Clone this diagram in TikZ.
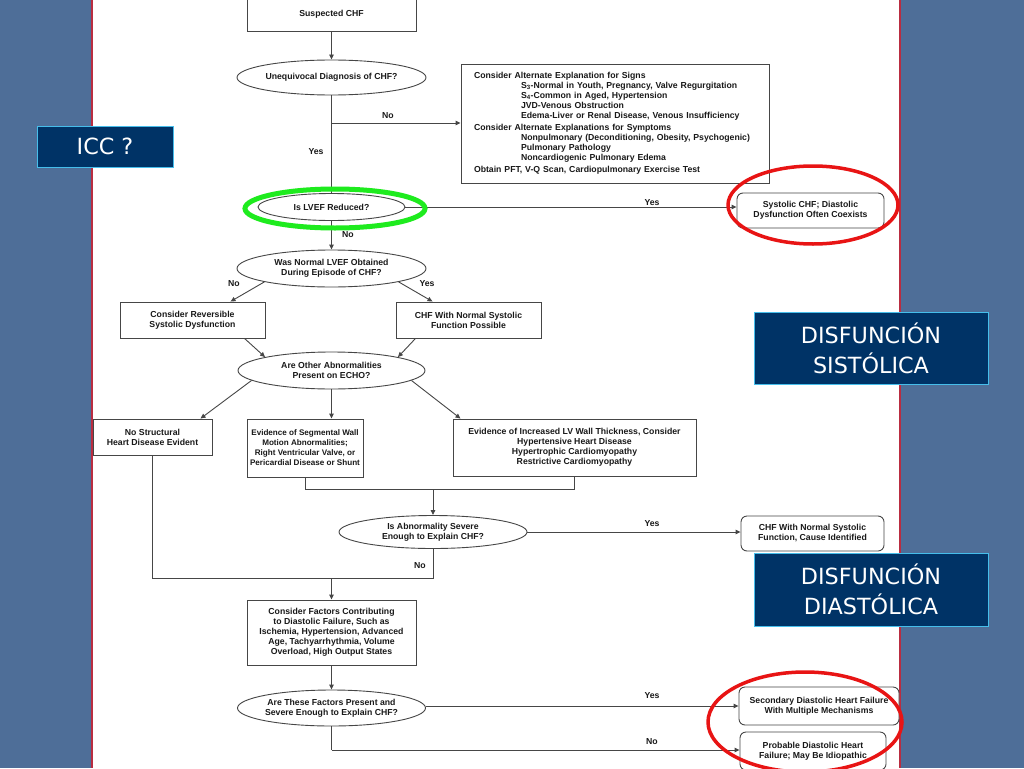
\documentclass[tikz,border=0pt]{standalone}
\usepackage{fontspec}
\setmainfont{Liberation Sans}
\newfontfamily\slidefont{DejaVu Sans}
\usetikzlibrary{shapes.geometric,arrows.meta,calc}
\definecolor{bgblue}{RGB}{78,110,152}
\definecolor{navy}{RGB}{0,51,102}
\definecolor{cyanb}{RGB}{70,190,235}
\definecolor{panelred}{RGB}{185,45,65}
\definecolor{ink}{RGB}{25,25,25}
\definecolor{wire}{RGB}{70,70,70}
\definecolor{ringgreen}{RGB}{30,235,30}
\definecolor{ringred}{RGB}{232,20,20}
\begin{document}
\begin{tikzpicture}[x=1pt,y=-1pt,
  fc/.style={font=\fontsize{8.7}{10}\selectfont\bfseries, text=ink, align=center, inner sep=0pt},
  box/.style={fc, draw=wire, line width=0.9pt, fill=white},
  rbox/.style={box, rounded corners=6pt},
  ell/.style={fc, ellipse, draw=wire, line width=0.9pt, fill=white},
  lbl/.style={fc},
  ln/.style={draw=wire, line width=0.9pt},
  arr/.style={ln, -{Triangle[length=5pt,width=4.5pt]}},
  tag/.style={draw=cyanb, line width=1pt, fill=navy, text=white, align=center,
    font=\slidefont\fontsize{22.3}{30}\selectfont, inner sep=0pt}
]
\useasboundingbox (0,0) rectangle (1024,768);
% slide background
\fill[bgblue] (0,0) rectangle (1024,768);
\fill[white] (92,0) rectangle (900,768);
\draw[panelred, line width=2pt] (92,0) -- (92,768);
\draw[panelred, line width=2pt] (900,0) -- (900,768);

% flowchart nodes
\node[box, minimum width=169pt, minimum height=33pt] (s) at (331.5,14.5) {Suspected CHF};
\node[ell, minimum width=189pt, minimum height=35pt] (u) at (331.5,77.5) {Unequivocal Diagnosis of CHF?};
\node[box, minimum width=308pt, minimum height=119pt, text width=282pt, align=left] (alt) at (615,123.5) {%
Consider Alternate Explanation for Signs\\
\hspace*{47pt}S\textsubscript{3}-Normal in Youth, Pregnancy, Valve Regurgitation\\
\hspace*{47pt}S\textsubscript{4}-Common in Aged, Hypertension\\
\hspace*{47pt}JVD-Venous Obstruction\\
\hspace*{47pt}Edema-Liver or Renal Disease, Venous Insufficiency\\[2pt]
Consider Alternate Explanations for Symptoms\\
\hspace*{47pt}Nonpulmonary (Deconditioning, Obesity, Psychogenic)\\
\hspace*{47pt}Pulmonary Pathology\\
\hspace*{47pt}Noncardiogenic Pulmonary Edema\\[2pt]
Obtain PFT, V-Q Scan, Cardiopulmonary Exercise Test};
\node[ell, minimum width=147pt, minimum height=27pt] (l) at (331.5,207) {Is LVEF Reduced?};
\node[rbox, minimum width=147pt, minimum height=35pt] (sys) at (810.5,210.5) {Systolic CHF; Diastolic\\Dysfunction Often Coexists};
\node[ell, minimum width=189pt, minimum height=37pt] (w) at (331.5,268.5) {Was Normal LVEF Obtained\\During Episode of CHF?};
\node[box, minimum width=145pt, minimum height=36pt] (rev) at (192.5,320) {Consider Reversible\\Systolic Dysfunction};
\node[box, minimum width=145pt, minimum height=36pt] (ncp) at (468.5,320) {CHF With Normal Systolic\\Function Possible};
\node[ell, minimum width=187pt, minimum height=37pt] (e3) at (331.5,370.5) {Are Other Abnormalities\\Present on ECHO?};
\node[box, minimum width=119pt, minimum height=36pt] (nsd) at (152.5,437) {No Structural\\Heart Disease Evident};
\node[box, minimum width=116pt, minimum height=58pt, font=\fontsize{8.1}{10}\selectfont\bfseries] (seg) at (305,448) {Evidence of Segmental Wall\\Motion Abnormalities;\\Right Ventricular Valve, or\\Pericardial Disease or Shunt};
\node[box, minimum width=243pt, minimum height=57pt] (lvw) at (574.5,447.5) {Evidence of Increased LV Wall Thickness, Consider\\Hypertensive Heart Disease\\Hypertrophic Cardiomyopathy\\Restrictive Cardiomyopathy};
\node[ell, minimum width=188pt, minimum height=33pt] (e4) at (433,532) {Is Abnormality Severe\\Enough to Explain CHF?};
\node[rbox, minimum width=143pt, minimum height=35pt] (cni) at (812.5,533.5) {CHF With Normal Systolic\\Function, Cause Identified};
\node[box, minimum width=169pt, minimum height=65pt] (fac) at (331.5,632.5) {Consider Factors Contributing\\to Diastolic Failure, Such as\\Ischemia, Hypertension, Advanced\\Age, Tachyarrhythmia, Volume\\Overload, High Output States};
\node[ell, minimum width=187pt, minimum height=36pt] (e5) at (331.5,708) {Are These Factors Present and\\Severe Enough to Explain CHF?};
\node[rbox, minimum width=160pt, minimum height=38pt] (sec) at (819,706) {Secondary Diastolic Heart Failure\\With Multiple Mechanisms};
\node[rbox, minimum width=146pt, minimum height=38pt] (prob) at (813,751) {Probable Diastolic Heart\\Failure; May Be Idiopathic};

% junction coordinates
\coordinate (j1) at (331.5,123);
\coordinate (j2) at (433,489);
\coordinate (j3) at (331.5,578);
\coordinate (j4) at (331.5,750);

% connectors
\draw[arr] (s) -- (u);
\draw[ln] (u.south) -- (l.north);
\draw[arr] (j1) -- (alt.west |- j1);
\draw[arr] (l.east) -- (l.east -| sys.west);
\draw[arr] (l.south) -- (w.north);
\draw[arr] (w.south west) -- ($(rev.north)+(38,0)$);
\draw[arr] (w.south east) -- ($(ncp.north)+(-36,0)$);
\draw[arr] ($(rev.south)+(52,0)$) -- (e3.north west);
\draw[arr] ($(ncp.south)+(-53,0)$) -- (e3.north east);
\draw[arr] ($(e3.center)+(-80,10)$) -- ($(nsd.north)+(48,0)$);
\draw[arr] (e3.south) -- (e3.south |- seg.north);
\draw[arr] ($(e3.center)+(80,10)$) -- ($(lvw.north)+(-114,0)$);
\draw[ln] (seg.south) -- (seg.south |- j2) -- (lvw.south |- j2) -- (lvw.south);
\draw[arr] (j2) -- (e4.north);
\draw[arr] (e4.east) -- (e4.east -| cni.west);
\draw[ln] (nsd.south) -- (nsd.south |- j3) -- (e4.south |- j3) -- (e4.south);
\draw[arr] (j3) -- (fac.north);
\draw[arr] (fac.south) -- (e5.north);
\draw[arr] (e5.east |- sec.west) -- (sec.west);
\draw[ln] (e5.south) -- (j4);
\draw[arr] (j4) -- (j4 -| prob.west);

% connector labels
\node[lbl] (tNo1) at (388,116) {No};
\node[lbl] (tYes1) at (316,152) {Yes};
\node[lbl] (tYes2) at (652,203) {Yes};
\node[lbl] (tNo2) at (348,235) {No};
\node[lbl] (tNo3) at (234,284) {No};
\node[lbl] (tYes3) at (427,284) {Yes};
\node[lbl] (tYes4) at (652,524) {Yes};
\node[lbl] (tNo4) at (420,566) {No};
\node[lbl] (tYes5) at (652,696) {Yes};
\node[lbl] (tNo5) at (652,742) {No};

% highlight rings
\draw[ringgreen, line width=5pt] (335,208.5) ellipse [x radius=90, y radius=19.5];
\draw[ringred, line width=3.5pt] (813,205) ellipse [x radius=85, y radius=39];
\draw[ringred, line width=3.5pt] (805,722) ellipse [x radius=97, y radius=50];

% slide tags
\node[tag, minimum width=136pt, minimum height=41pt] (icc) at (105,146.5) {ICC ?};
\node[tag, minimum width=234pt, minimum height=72pt] (sis) at (871,348) {DISFUNCIÓN\\SISTÓLICA};
\node[tag, minimum width=234pt, minimum height=73pt] (dia) at (871,589.5) {DISFUNCIÓN\\DIASTÓLICA};
\end{tikzpicture}
\end{document}
